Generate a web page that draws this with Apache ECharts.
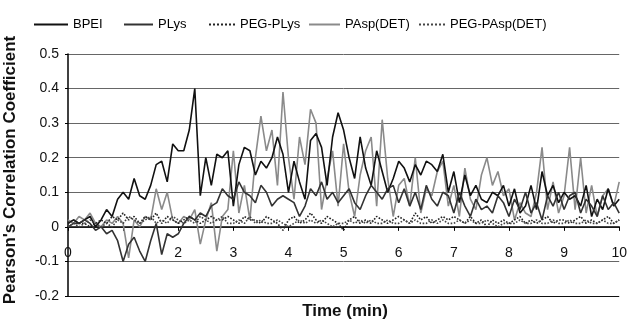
<!DOCTYPE html>
<html><head><meta charset="utf-8">
<script src="https://cdn.jsdelivr.net/npm/echarts@6/dist/echarts.min.js"></script>
<style>html,body{margin:0;padding:0;background:#fff}#c{width:630px;height:320px}</style>
</head><body><div id="c"></div>
<script>
var seriesNames = ['BPEI', 'PLys', 'PEG-PLys', 'PAsp(DET)', 'PEG-PAsp(DET)'];
var yTicks = [-0.2, -0.1, 0, 0.1, 0.2, 0.3, 0.4, 0.5];
var xTickLabels = ['0', '', '2', '3', '4', '5', '6', '7', '8', '9', '10'];
var timeMin = [];
for (var i = 0; i <= 100; i++) timeMin.push(i / 10);

var bpei = [0.01,0.02,0.01,0.02,0.03,0.00,0.02,0.05,0.03,0.08,
  0.10,0.08,0.14,0.09,0.08,0.12,0.18,0.19,0.13,0.24,
  0.22,0.22,0.28,0.40,0.09,0.20,0.12,0.21,0.20,0.22,
  0.06,0.18,0.23,0.22,0.15,0.19,0.17,0.20,0.26,0.21,
  0.10,0.19,0.13,0.08,0.25,0.27,0.23,0.12,0.26,0.33,
  0.28,0.20,0.14,0.26,0.17,0.12,0.22,0.16,0.10,0.14,
  0.19,0.17,0.13,0.18,0.15,0.19,0.18,0.16,0.21,0.10,
  0.16,0.07,0.15,0.09,0.12,0.08,0.07,0.10,0.09,0.12,
  0.06,0.11,0.04,0.06,0.12,0.05,0.16,0.09,0.12,0.07,
  0.10,0.08,0.09,0.06,0.12,0.03,0.08,0.05,0.11,0.06,0.08];
var plys = [0.00,0.01,0.01,0.02,0.01,-0.01,0.00,-0.02,-0.01,-0.04,
  -0.10,-0.05,-0.03,-0.07,-0.10,-0.04,0.01,-0.08,-0.02,-0.03,
  -0.02,0.01,0.03,0.02,0.04,0.03,0.06,0.07,0.11,0.09,
  0.08,0.13,0.10,0.09,0.07,0.12,0.10,0.06,0.08,0.09,
  0.08,0.07,0.03,0.06,0.11,0.09,0.13,0.08,0.10,0.07,
  0.09,0.11,0.07,0.05,0.09,0.12,0.10,0.08,0.11,0.12,
  0.07,0.11,0.06,0.10,0.05,0.12,0.08,0.06,0.10,0.09,
  0.04,0.10,0.06,0.03,0.08,0.05,0.06,0.04,0.09,0.07,
  0.03,0.08,0.05,0.10,0.04,0.07,0.02,0.09,0.06,0.10,
  0.05,0.09,0.10,0.04,0.08,0.06,0.03,0.09,0.05,0.07,0.04];
var pegPlys = [0.01,0.02,0.01,0.01,0.00,0.01,0.02,0.01,0.03,0.02,
  0.04,0.02,0.03,0.01,0.03,0.02,0.04,0.01,0.03,0.02,
  0.01,0.02,0.03,0.02,0.01,0.02,0.03,0.02,0.02,0.03,
  0.02,0.01,0.03,0.02,0.02,0.01,0.03,0.02,0.01,-0.01,
  0.02,0.03,0.01,0.02,0.04,0.02,0.01,0.03,0.02,0.01,
  -0.01,0.02,0.03,0.01,0.02,0.01,0.03,0.02,0.01,0.02,
  0.03,0.02,0.01,0.04,0.02,0.03,0.01,0.02,0.03,0.02,
  0.03,0.02,0.01,0.03,0.01,0.02,0.00,0.02,0.01,0.02,
  0.01,0.02,0.03,0.01,0.02,0.01,0.02,0.03,0.01,0.02,
  0.02,0.01,0.02,0.03,0.01,0.02,0.01,0.02,0.03,0.01,0.02];
var paspDet = [0.02,0.01,0.03,0.02,0.04,0.01,0.00,0.02,0.01,0.03,
  0.01,-0.09,0.02,0.00,0.03,0.02,0.11,0.05,0.10,0.02,
  0.01,0.03,0.02,0.05,-0.05,0.02,0.07,-0.07,0.03,0.05,
  0.22,0.04,0.12,0.02,0.20,0.32,0.22,0.28,0.12,0.39,
  0.20,0.08,0.26,0.18,0.34,0.30,0.05,0.14,0.22,0.06,
  0.24,0.10,0.03,0.15,0.22,0.26,0.06,0.31,0.14,0.03,
  0.12,0.14,0.06,0.20,0.04,0.11,0.09,0.16,0.19,0.06,
  0.12,0.03,0.17,0.08,0.05,0.15,0.20,0.12,0.16,0.09,
  0.11,0.02,0.07,0.04,0.03,0.10,0.23,0.05,0.13,0.04,
  0.09,0.23,0.05,0.20,0.04,0.12,0.03,0.09,0.11,0.06,0.13];
var pegPaspDet = [0.00,0.01,0.00,0.01,0.02,0.01,0.00,0.01,0.00,0.02,
  0.01,0.03,0.02,0.01,0.02,0.03,0.01,0.02,0.01,0.03,
  0.02,0.01,0.02,0.01,0.03,0.02,0.01,0.02,0.03,0.01,
  0.01,0.02,0.01,0.03,0.01,0.02,0.01,0.01,0.02,0.01,
  0.00,0.01,0.02,0.01,0.02,0.01,0.02,0.01,0.00,0.01,
  0.01,0.02,0.01,0.02,0.01,0.02,0.01,0.01,0.02,0.01,
  0.01,0.02,0.01,0.02,0.01,0.01,0.02,0.01,0.02,0.01,
  0.01,0.02,0.01,0.02,0.01,0.01,0.02,0.01,0.00,0.01,
  0.01,0.01,0.02,0.01,0.01,0.02,0.01,0.01,0.02,0.01,
  0.01,0.02,0.01,0.01,0.02,0.01,0.01,0.02,0.01,0.01,0.02];

function pairs(ys) { return timeMin.map(function (t, k) { return [t, ys[k]]; }); }

var FONT = 'Liberation Sans, Arial, sans-serif';
var styles = [
  {color: '#111', type: 'solid', width: 1.6},
  {color: '#333', type: 'solid', width: 1.6},
  {color: '#222', type: 'dotted', width: 1.6},
  {color: '#8a8a8a', type: 'solid', width: 1.6},
  {color: '#444', type: 'dotted', width: 1.6}
];
var allData = [bpei, plys, pegPlys, paspDet, pegPaspDet];
var legendLeft = [28, 118, 203, 303, 413];
var legendIconW = [34, 29, 26, 31, 26];

var GRID_TOP = 54, GRID_BOTTOM = 24, H = 320;
var plotH = H - GRID_TOP - GRID_BOTTOM;
var yMin = yTicks[0], yMax = yTicks[yTicks.length - 1];
var zeroOffset = -plotH * (0 - yMin) / (yMax - yMin);

var chart = echarts.init(document.getElementById('c'), null, {renderer: 'canvas'});
chart.setOption({
  animation: false,
  backgroundColor: '#fff',
  grid: {left: 68, right: 4, top: GRID_TOP, bottom: GRID_BOTTOM, containLabel: false},
  legend: seriesNames.map(function (n, k) {
    return {
      left: legendLeft[k], top: 13, itemWidth: legendIconW[k], itemHeight: 10,
      textStyle: {fontFamily: FONT, fontSize: 13, color: '#000'},
      itemStyle: {opacity: 0},
      data: [n]
    };
  }),
  xAxis: {
    type: 'value', min: 0, max: 10, interval: 1, position: 'bottom', offset: zeroOffset,
    axisLine: {onZero: false, lineStyle: {color: '#000', width: 1.5}},
    axisTick: {show: true, length: 4, lineStyle: {color: '#000'}},
    axisLabel: {margin: 19, fontFamily: FONT, fontSize: 14, color: '#111',
      formatter: function (v) { return xTickLabels[Math.round(v)]; }},
    splitLine: {show: false}
  },
  yAxis: {
    type: 'value', min: yMin, max: yMax, interval: 0.1,
    axisLine: {show: true, lineStyle: {color: '#000', width: 1.5}},
    axisTick: {show: true, length: 3, lineStyle: {color: '#000'}},
    axisLabel: {margin: 9, fontFamily: FONT, fontSize: 14, color: '#111',
      formatter: function (v) { var r = Math.round(v * 10) / 10; return r === 0 ? '0' : String(r); }},
    splitLine: {show: true, lineStyle: {color: ['#111', '#666', '#666', '#666', '#666', '#666', '#666', '#666'], width: 1}}
  },
  graphic: [
    {type: 'text', x: 345, y: 303, style: {text: 'Time (min)', font: 'bold 17px ' + FONT, fill: '#111', align: 'center', verticalAlign: 'top'}},
    {type: 'text', rotation: Math.PI / 2, x: 2, y: 170,
      style: {text: "Pearson's Correlation Coefficient", font: 'bold 17px ' + FONT, fill: '#111', align: 'center', verticalAlign: 'top'}}
  ],
  series: seriesNames.map(function (n, k) {
    return {
      name: n, type: 'line', data: pairs(allData[k]),
      showSymbol: false, symbol: 'none', smooth: false,
      lineStyle: styles[k], itemStyle: {color: styles[k].color}, z: k === 3 ? 1 : 2
    };
  })
});
</script></body></html>
